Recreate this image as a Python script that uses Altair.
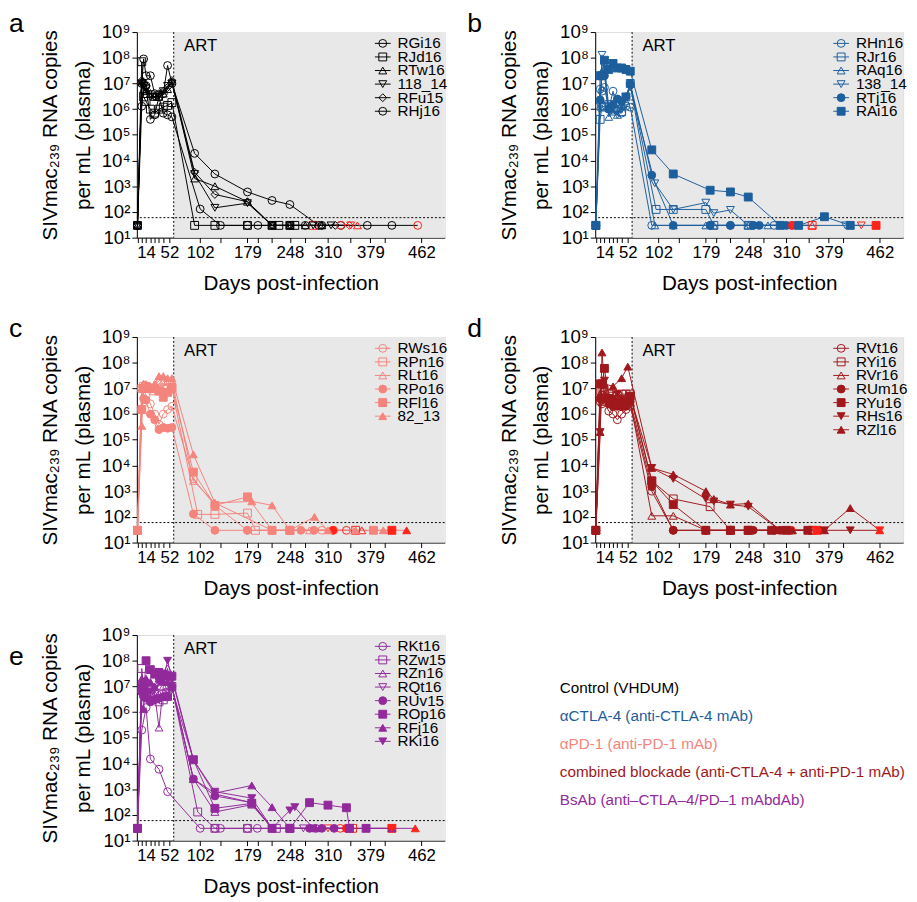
import altair as alt
import pandas as pd

# ---------------- data ----------------
X_MAJOR = [14, 52, 102, 179, 248, 310, 379, 462]
X_MINOR = [0, 7, 21, 28, 35, 42, 135, 196, 219, 273, 347, 403]
ART_START = 59
LOD = 60

A_NAMES = ["RGi16", "RJd16", "RTw16", "118_14", "RFu15", "RHj16"]
A_DAYS = [
    [0, 7, 10, 14, 21, 28, 35, 42, 49, 56, 93, 126, 179, 219, 248, 295, 331, 374, 414, 456],
    [0, 7, 10, 14, 21, 28, 35, 42, 49, 56, 93, 126, 179, 219, 230, 248, 256, 286],
    [0, 7, 10, 14, 21, 28, 35, 42, 49, 56, 93, 126, 179, 219, 248, 273, 300, 358],
    [0, 7, 10, 14, 21, 28, 35, 42, 49, 56, 93, 126, 179, 219, 248, 286, 315, 347],
    [0, 7, 10, 14, 21, 28, 35, 42, 49, 56, 93, 126, 179, 219, 248, 300, 322, 345],
    [0, 7, 10, 14, 21, 28, 35, 42, 49, 56, 102, 135, 179, 196, 219, 248, 273, 300, 331],
]
A_VALS = [
    [30, 1e7, 9e7, 2e7, 2e7, 4e6, 3e6, 4e6, 5e7, 1e7, 1.9e4, 3e3, 600, 280, 195, 30, 30, 30, 30, 30],
    [30, 7e7, 3e6, 2e6, 1e6, 7e5, 1e6, 1.2e6, 1.4e6, 1.8e6, 30, 30, 30, 30, 30, 30, 30, 30],
    [30, 1.2e7, 6e6, 5e6, 4e6, 3e6, 3e6, 4e6, 6e6, 1.2e7, 2e3, 1e3, 250, 30, 30, 30, 30, 30],
    [30, 1e7, 8e6, 6e6, 3e6, 3e6, 3.5e6, 5e6, 8e6, 1e7, 3e3, 145, 220, 30, 30, 30, 30, 30],
    [30, 1.3e7, 1e7, 8e6, 4e6, 3e6, 4e6, 5e6, 7e6, 1.3e7, 3.5e3, 480, 250, 30, 30, 30, 30, 30],
    [30, 1.3e6, 1e7, 8e6, 4e5, 6e5, 3e6, 7e5, 6e5, 5e5, 130, 30, 30, 30, 30, 30, 30, 30, 30],
]

B_NAMES = ["RHn16", "RJr16", "RAq16", "138_14", "RTj16", "RAi16"]
B_DAYS = [
    [0, 7, 10, 14, 21, 28, 35, 42, 49, 56, 91, 186, 219, 256, 290, 318],
    [0, 7, 10, 14, 21, 28, 35, 42, 49, 56, 98, 126, 179, 192, 248, 352],
    [0, 7, 10, 14, 21, 28, 35, 42, 49, 56, 96, 126, 179, 192, 248, 280, 352],
    [0, 7, 10, 14, 21, 28, 35, 42, 49, 56, 96, 126, 179, 192, 219, 248, 406, 432],
    [0, 7, 10, 14, 21, 28, 35, 42, 49, 56, 91, 126, 186, 219, 256, 266, 310, 320],
    [0, 7, 10, 14, 21, 28, 35, 42, 49, 56, 91, 126, 186, 219, 248, 300, 330, 372, 414, 456],
]
B_VALS = [
    [30, 6e6, 5e6, 7e6, 1e6, 5e6, 1e6, 7e5, 1.3e6, 1.2e6, 30, 30, 30, 30, 30, 30],
    [30, 4e5, 1.2e6, 1.3e6, 1.5e6, 1e6, 1.3e6, 8e5, 3e6, 1e7, 125, 125, 125, 30, 30, 30],
    [30, 1.3e6, 3e7, 4e7, 5e5, 8e5, 6e5, 1.5e6, 2e6, 1e7, 30, 30, 30, 30, 30, 30, 30],
    [30, 1.3e6, 1.3e8, 5e7, 1.2e6, 1e6, 6e5, 1e6, 3e6, 7e6, 1.3e3, 125, 230, 90, 120, 30, 30, 30],
    [30, 2.3e6, 2e7, 2e7, 1e6, 1.5e6, 2.5e6, 2e6, 3e6, 1e7, 2.7e3, 30, 30, 30, 30, 30, 30, 30],
    [30, 2e7, 2e7, 8e7, 3.5e7, 6e7, 4e7, 4e7, 3.5e7, 3e7, 2.6e4, 3e3, 700, 600, 380, 30, 30, 65, 30, 30],
]

C_NAMES = ["RWs16", "RPn16", "RLt16", "RPo16", "RFl16", "82_13"]
C_DAYS = [
    [0, 7, 10, 14, 21, 28, 35, 42, 49, 56, 91, 126, 179, 219, 248, 300, 320, 340],
    [0, 7, 10, 14, 21, 28, 35, 42, 49, 56, 98, 126, 179, 192, 248, 355],
    [0, 7, 10, 14, 21, 28, 35, 42, 49, 56, 91, 126, 219, 248, 280, 350, 365],
    [0, 7, 10, 14, 21, 28, 35, 42, 49, 56, 91, 126, 179, 219, 248, 266, 287, 318],
    [0, 7, 10, 14, 21, 28, 35, 42, 49, 56, 91, 126, 179, 219, 248, 384, 414],
    [0, 7, 10, 14, 21, 28, 35, 42, 49, 56, 91, 126, 186, 219, 248, 288, 310, 355, 400, 438],
]
C_VALS = [
    [30, 1e7, 1.1e7, 5e6, 2.5e6, 1e6, 4e5, 1e6, 1.5e6, 2e6, 3e3, 280, 30, 30, 30, 30, 30, 30],
    [30, 1e7, 1.2e7, 1e7, 1e7, 8e6, 8e6, 9e6, 1e7, 1e7, 125, 125, 140, 30, 30, 30],
    [30, 1e7, 1.5e7, 1.5e7, 1.2e7, 1.3e7, 2e7, 2e7, 2e7, 2e7, 2.5e3, 350, 30, 30, 30, 30, 30],
    [30, 1.5e6, 4e6, 3.5e6, 1e6, 6e5, 2.5e5, 3e5, 2.8e5, 3e5, 130, 30, 30, 30, 30, 30, 30, 30],
    [30, 1.5e6, 1e7, 1.2e7, 1e7, 1e7, 8e6, 4.5e6, 7e6, 1.1e7, 5.5e3, 280, 600, 30, 30, 30, 30],
    [30, 3.5e5, 1.5e7, 1.2e7, 1.2e7, 1.5e7, 3e7, 3e7, 2.5e7, 2.5e7, 2.7e4, 350, 400, 280, 30, 100, 30, 30, 30, 30],
]

D_NAMES = ["RVt16", "RYi16", "RVr16", "RUm16", "RYu16", "RHs16", "RZl16"]
D_DAYS = [
    [0, 7, 10, 14, 21, 28, 35, 42, 49, 56, 91, 126, 179, 219, 248, 300, 352],
    [0, 7, 10, 14, 21, 28, 35, 42, 49, 56, 91, 126, 186, 219, 248, 352],
    [0, 7, 10, 14, 21, 28, 35, 42, 49, 56, 91, 126, 179, 219, 248, 318, 352],
    [0, 7, 10, 14, 21, 28, 35, 42, 49, 56, 91, 126, 179, 219, 256, 290, 318],
    [0, 7, 10, 14, 21, 28, 35, 42, 49, 56, 91, 126, 179, 219, 248, 286, 310, 345, 360],
    [0, 7, 10, 14, 21, 28, 35, 42, 49, 56, 91, 126, 179, 192, 219, 248, 300, 372, 414, 462],
    [0, 7, 10, 14, 28, 42, 52, 91, 126, 179, 192, 219, 248, 300, 320, 372, 414, 462],
]
D_VALS = [
    [30, 3e6, 2.5e6, 3e6, 1.3e6, 1e6, 6e5, 1e6, 1.5e6, 2e6, 1e3, 30, 30, 30, 30, 30, 30],
    [30, 8e6, 8e6, 7e6, 6e6, 5e6, 5e6, 6e6, 6e6, 6e6, 2.5e3, 500, 250, 30, 30, 30],
    [30, 6e6, 8e6, 6e6, 3e6, 3e6, 3e6, 3e6, 3e6, 3e6, 110, 110, 30, 30, 30, 30, 30],
    [30, 4e6, 4e6, 4e6, 2.5e6, 2e6, 2e6, 2e6, 2e6, 3e6, 1.5e3, 30, 30, 30, 30, 30, 30],
    [30, 1.5e7, 1.5e7, 6e7, 4e6, 3e6, 2.5e6, 3e6, 3e6, 5e6, 2.5e3, 300, 30, 30, 30, 30, 30, 30, 30],
    [30, 2e5, 1.5e7, 2e7, 3e6, 4e6, 6e6, 4e6, 3e6, 5e6, 8e3, 3e3, 500, 400, 300, 250, 30, 30, 30, 30],
    [30, 2e5, 2.5e8, 1.5e7, 1.2e7, 2.5e7, 7e7, 8e3, 4.5e3, 1e3, 500, 300, 330, 30, 30, 30, 220, 30],
]

E_NAMES = ["RKt16", "RZw15", "RZn16", "RQt16", "RUv15", "ROp16", "RFj16", "RKi16"]
E_DAYS = [
    [0, 7, 14, 21, 35, 49, 102, 126, 135, 179, 195, 290, 330],
    [0, 7, 10, 14, 21, 28, 35, 42, 49, 56, 98, 126, 179, 226, 248, 350],
    [0, 7, 10, 14, 21, 28, 35, 42, 49, 56, 91, 126, 186, 219, 248, 345],
    [0, 7, 10, 14, 21, 28, 35, 42, 49, 56, 91, 126, 186, 219, 248, 270, 310],
    [0, 7, 10, 14, 21, 28, 35, 42, 49, 56, 91, 126, 186, 219, 248, 280, 300, 320, 340],
    [0, 7, 10, 14, 21, 28, 35, 42, 49, 56, 91, 126, 186, 219, 248, 280, 310, 340, 345, 372, 414],
    [0, 7, 10, 14, 21, 28, 35, 42, 49, 56, 91, 126, 186, 219, 248, 290, 414, 452],
    [0, 7, 10, 14, 21, 28, 35, 42, 49, 56, 91, 126, 186, 219, 248, 256, 286, 372, 414],
]
E_VALS = [
    [30, 2e5, 1.5e6, 1.5e4, 6e3, 800, 30, 30, 30, 30, 30, 30, 30],
    [30, 5e7, 8e6, 4e6, 6e6, 5e6, 2.5e6, 3e6, 4e6, 1e7, 130, 30, 30, 30, 30, 30],
    [30, 1e7, 1.5e7, 1.5e7, 1e7, 5e6, 2.5e5, 1e7, 5e7, 1e7, 2.5e3, 130, 250, 30, 30, 30],
    [30, 1e7, 1e7, 8e6, 3e6, 5e6, 3e6, 5e6, 6e6, 8e6, 1.4e4, 650, 300, 30, 30, 30, 30],
    [30, 6e6, 8e6, 3.5e6, 2.5e6, 3e6, 3.5e6, 4e6, 4e6, 1e7, 2.5e3, 550, 300, 30, 30, 30, 30, 30, 30],
    [30, 8e6, 5e6, 1e8, 4.5e7, 3e7, 3.5e7, 3e7, 2.5e7, 2.5e7, 1.4e4, 180, 280, 30, 30, 300, 240, 190, 30, 30, 30],
    [30, 2e7, 1.3e6, 2e7, 1.5e7, 1e7, 2e7, 1.5e7, 1.5e7, 1e7, 2.5e3, 700, 1.4e3, 200, 30, 30, 30, 30],
    [30, 1e7, 6e6, 5e6, 6e6, 8e6, 1.5e7, 2e7, 1e8, 2e7, 1.4e4, 800, 450, 30, 150, 200, 30, 30, 30],
]

GROUP_LABELS = [
    "Control (VHDUM)",
    "\u03b1CTLA-4 (anti-CTLA-4 mAb)",
    "\u03b1PD-1 (anti-PD-1 mAb)",
    "combined blockade (anti-CTLA-4 + anti-PD-1 mAb)",
    "BsAb (anti\u2013CTLA\u20134/PD\u20131 mAbdAb)",
]

# ---------------- style ----------------
FONT = "Liberation Sans"
C_CTRL = "#000000"
C_CTLA = "#1d5e9c"
C_PD1 = "#f4847c"
C_COMB = "#a0181c"
C_BSAB = "#922a9c"
C_FINAL = "#ff2218"
GROUP_COLORS = [C_CTRL, C_CTLA, C_PD1, C_COMB, C_BSAB]
SHADE = "#e8e8e8"

W, H = 313, 209
X_DOMAIN = [-1, 500]

SUP = "['\u2070','\u00b9','\u00b2','\u00b3','\u2074','\u2075','\u2076','\u2077','\u2078','\u2079']"

xscale = alt.Scale(domain=X_DOMAIN, nice=False, zero=False)
yscale = alt.Scale(type="log", domain=[10, 1e9], nice=False)

major_str = "[" + ",".join(str(v) for v in X_MAJOR) + "]"
xaxis = alt.Axis(
    values=sorted(X_MAJOR + X_MINOR),
    labelExpr=f"indexof({major_str}, datum.value) >= 0 ? datum.label : ''",
    title="Days post-infection",
    titleFontSize=21, titleFontWeight="normal", titlePadding=13,
    labelFontSize=17, labelOverlap=False, labelFlush=False, labelPadding=2,
    tickSize=5, grid=False, domainColor="black", tickColor="black",
    labelColor="black", titleColor="black", labelFont=FONT, titleFont=FONT,
)
yaxis = alt.Axis(
    values=[10 ** k for k in range(1, 10)],
    labelExpr=f"'10' + {SUP}[round(log(datum.value)/LN10)]",
    title=["SIVmac\u2082\u2083\u2089 RNA copies", "per mL (plasma)"],
    titleFontSize=21, titleFontWeight="normal", titleLineHeight=33, titlePadding=8,
    labelFontSize=19, labelPadding=2, tickSize=5, grid=False,
    domainColor="black", tickColor="black", labelColor="black", titleColor="black",
    labelFont=FONT, titleFont=FONT, labelOverlap=False,
)


def panel(letter, names, days, vals, color, shapes, filled, letter_y=-21):
    rows = []
    for i, n in enumerate(names):
        k = len(days[i])
        for j in range(k):
            rows.append({"animal": n, "day": days[i][j], "v": vals[i][j],
                         "last": j == k - 1, "filled": bool(filled[i])})
    df = pd.DataFrame(rows)

    X = alt.X("day:Q", scale=xscale, axis=xaxis)
    Y = alt.Y("v:Q", scale=yscale, axis=yaxis)
    shape_enc = alt.Shape("animal:N", scale=alt.Scale(domain=names, range=shapes), legend=None)

    one = pd.DataFrame({"s": [ART_START], "e": [X_DOMAIN[1]], "lod": [LOD]})
    shade = alt.Chart(one).mark_rect(color=SHADE).encode(
        x=alt.X("s:Q", scale=xscale, axis=xaxis), x2="e:Q",
        y=alt.value(0), y2=alt.value(H))
    vrule = alt.Chart(one).mark_rule(color="black", strokeDash=[2, 2], strokeWidth=1).encode(
        x=alt.X("s:Q", scale=xscale, axis=xaxis))
    hrule = alt.Chart(one).mark_rule(color="black", strokeDash=[2, 2], strokeWidth=1).encode(
        y=alt.Y("lod:Q", scale=yscale, axis=yaxis))

    base = alt.Chart(df)
    lines = base.mark_line(color=color, strokeWidth=1).encode(x=X, y=Y, detail="animal:N")
    fill_expr = (f"datum.filled ? (datum.last ? '{C_FINAL}' : '{color}') : 'transparent'")
    stroke_expr = f"datum.last ? '{C_FINAL}' : '{color}'"
    pts = base.transform_calculate(fc=fill_expr, sc=stroke_expr).mark_point(
        size=64, strokeWidth=1, opacity=1).encode(
        x=X, y=Y, shape=shape_enc,
        fill=alt.Fill("fc:N", scale=None), stroke=alt.Stroke("sc:N", scale=None))

    art = alt.Chart(pd.DataFrame({"t": ["ART"]})).mark_text(
        align="left", baseline="top", fontSize=17, font=FONT, color="black").encode(
        text="t:N", x=alt.value(48), y=alt.value(6))

    leg_df = pd.DataFrame({"animal": names, "idx": list(range(len(names))),
                           "filled": [bool(f) for f in filled]})
    leg = alt.Chart(leg_df).transform_calculate(
        ly="11.5 + 13.8*datum.idx",
        fc=f"datum.filled ? '{color}' : 'transparent'")
    leg_rule = leg.mark_rule(color=color, strokeWidth=1).encode(
        x=alt.value(W - 71), x2=alt.value(W - 55), y=alt.Y("ly:Q", scale=None))
    leg_pts = leg.mark_point(size=64, strokeWidth=1, opacity=1, color=color).encode(
        x=alt.value(W - 63), y=alt.Y("ly:Q", scale=None), shape=shape_enc,
        fill=alt.Fill("fc:N", scale=None))
    leg_txt = leg.mark_text(align="left", baseline="middle", fontSize=15.5, font=FONT,
                            color="black").encode(
        x=alt.value(W - 48), y=alt.Y("ly:Q", scale=None), text="animal:N")

    let = alt.Chart(pd.DataFrame({"t": [letter]})).mark_text(
        align="left", baseline="top", fontSize=27, font=FONT, color="black").encode(
        text="t:N", x=alt.value(-130), y=alt.value(letter_y))

    return alt.layer(shade, hrule, vrule, lines, pts, art, leg_rule, leg_pts, leg_txt, let).properties(
        width=W, height=H)


SH6 = ["circle", "square", "triangle-up", "triangle-down", "diamond", "circle"]
SH6F = ["circle", "square", "triangle-up", "triangle-down", "circle", "square"]
SH6C = ["circle", "square", "triangle-up", "circle", "square", "triangle-up"]
SH7 = ["circle", "square", "triangle-up", "circle", "square", "triangle-down", "triangle-up"]
SH8 = ["circle", "square", "triangle-up", "triangle-down", "circle", "square", "triangle-up", "triangle-down"]

pa = panel("a", A_NAMES, A_DAYS, A_VALS, C_CTRL, SH6, [0, 0, 0, 0, 0, 0])
pb = panel("b", B_NAMES, B_DAYS, B_VALS, C_CTLA, SH6F, [0, 0, 0, 0, 1, 1])
pc = panel("c", C_NAMES, C_DAYS, C_VALS, C_PD1, SH6C, [0, 0, 0, 1, 1, 1])
pd_ = panel("d", D_NAMES, D_DAYS, D_VALS, C_COMB, SH7, [0, 0, 0, 1, 1, 1, 1])
pe = panel("e", E_NAMES, E_DAYS, E_VALS, C_BSAB, SH8, [0, 0, 0, 0, 1, 1, 1, 1], letter_y=9)

legend_chart = alt.Chart(pd.DataFrame({"label": GROUP_LABELS, "idx": list(range(5))})).transform_calculate(
    py="54 + 28.5*datum.idx").mark_text(align="left", baseline="middle", fontSize=15.5, font=FONT).encode(
    x=alt.value(0), y=alt.Y("py:Q", scale=None), text="label:N",
    color=alt.Color("label:N", scale=alt.Scale(domain=GROUP_LABELS, range=GROUP_COLORS), legend=None),
).properties(width=330, height=H, view=alt.ViewBackground(stroke="transparent"))

row1 = alt.hconcat(pa, pb, spacing=18).resolve_scale(shape="independent")
row2 = alt.hconcat(pc, pd_, spacing=18).resolve_scale(shape="independent")
row3 = alt.hconcat(pe, legend_chart, spacing=114).resolve_scale(shape="independent", color="independent")

top = alt.vconcat(row1, row2, spacing=20).resolve_scale(shape="independent")
chart = alt.vconcat(top, row3, spacing=26).resolve_scale(shape="independent", color="independent").properties(
    padding={"left": 0, "top": -6, "right": 0, "bottom": 0}).configure_view(
    stroke="#333333", strokeWidth=1.5).configure(font=FONT)

chart.save("out.html", embed_options={"renderer": "svg", "actions": False})
